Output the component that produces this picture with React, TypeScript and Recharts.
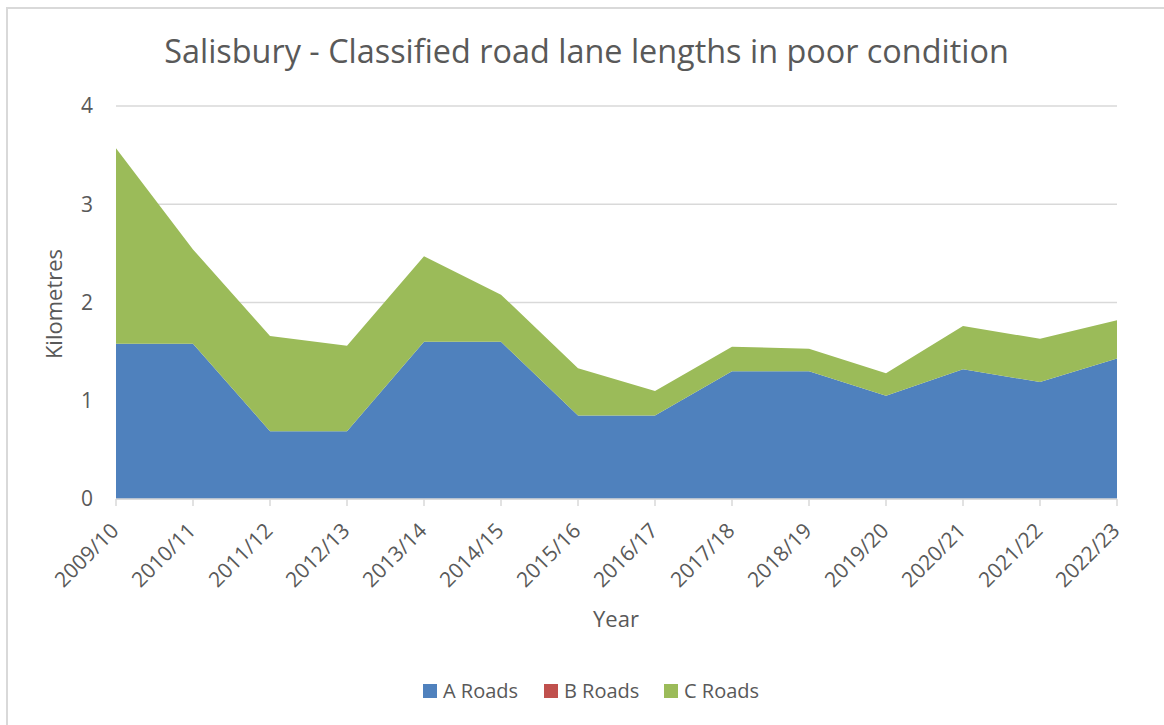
import React from "react";
import { Area, AreaChart, CartesianGrid, XAxis, YAxis } from "recharts";

const YEARS = [
  "2009/10", "2010/11", "2011/12", "2012/13", "2013/14", "2014/15", "2015/16",
  "2016/17", "2017/18", "2018/19", "2019/20", "2020/21", "2021/22", "2022/23",
];
const A_ROADS = [1.58, 1.58, 0.69, 0.69, 1.6, 1.6, 0.85, 0.85, 1.3, 1.3, 1.05, 1.32, 1.19, 1.43];
const B_ROADS = [0, 0, 0, 0, 0, 0, 0, 0, 0, 0, 0, 0, 0, 0];
const C_ROADS = [1.99, 0.96, 0.97, 0.87, 0.87, 0.48, 0.48, 0.25, 0.25, 0.23, 0.23, 0.44, 0.44, 0.39];
const Y_TICKS = [0, 1, 2, 3, 4];

const BLUE = "#4f81bd";
const RED = "#c0504d";
const GREEN = "#9bbb59";
const TEXT = "#595959";
const GRID = "#d9d9d9";
const FONT = "'Open Sans', sans-serif";

const data = YEARS.map((year, i) => ({
  year,
  a: A_ROADS[i],
  b: B_ROADS[i],
  c: C_ROADS[i],
}));

const LEGEND = [
  { label: "A Roads", color: BLUE, x: 423 },
  { label: "B Roads", color: RED, x: 544 },
  { label: "C Roads", color: GREEN, x: 664 },
];

function YearTick({ x, y, payload }: any) {
  return (
    <g transform={`translate(${x + 4},${y + 26})`}>
      <text textAnchor="end" transform="rotate(-45)" fill={TEXT} fontSize={21} fontFamily={FONT}>
        {payload.value}
      </text>
    </g>
  );
}

export default function App() {
  return (
    <div style={{ position: "absolute", left: 0, top: 0, width: 1164, height: 725, background: "#fff", overflow: "hidden" }}>
      <div
        style={{
          position: "absolute",
          left: 6,
          top: 7,
          width: 1300,
          height: 900,
          borderLeft: `2px solid ${GRID}`,
          borderTop: `2px solid ${GRID}`,
        }}
      />
      <AreaChart
        width={1164}
        height={725}
        data={data}
        margin={{ top: 106, right: 47, bottom: 196, left: 56 }}
        style={{ position: "absolute", left: 0, top: 0 }}
      >
        <CartesianGrid vertical={false} stroke={GRID} strokeWidth={1.5} />
        <XAxis
          dataKey="year"
          height={30}
          axisLine={{ stroke: GRID, strokeWidth: 1.5 }}
          tickLine={{ stroke: GRID, strokeWidth: 1.5 }}
          tickSize={7}
          tickMargin={0}
          interval={0}
          tick={<YearTick />}
        />
        <YAxis
          width={60}
          domain={[0, 4]}
          ticks={Y_TICKS}
          axisLine={false}
          tickLine={false}
          tickSize={0}
          tickMargin={23}
          tick={{ fill: TEXT, fontSize: 21, fontFamily: FONT }}
        />
        <Area type="linear" dataKey="a" stackId="1" stroke="none" fill={BLUE} fillOpacity={1} isAnimationActive={false} />
        <Area type="linear" dataKey="b" stackId="1" stroke="none" fill={RED} fillOpacity={1} isAnimationActive={false} />
        <Area type="linear" dataKey="c" stackId="1" stroke="none" fill={GREEN} fillOpacity={1} isAnimationActive={false} />
      </AreaChart>
      <svg width={1164} height={725} style={{ position: "absolute", left: 0, top: 0, pointerEvents: "none" }}>
        <text x={586.5} y={63} textAnchor="middle" fill={TEXT} fontSize={32.4} fontFamily={FONT}>
          Salisbury - Classified road lane lengths in poor condition
        </text>
        <text x={616} y={627} textAnchor="middle" fill={TEXT} fontSize={22} fontFamily={FONT}>
          Year
        </text>
        <text
          x={0}
          y={0}
          transform="translate(62,304) rotate(-90)"
          textAnchor="middle"
          fill={TEXT}
          fontSize={22}
          fontFamily={FONT}
        >
          Kilometres
        </text>
        {LEGEND.map((item) => (
          <g key={item.label}>
            <rect x={item.x} y={684} width={14} height={14} fill={item.color} />
            <text x={item.x + 20} y={698} fill={TEXT} fontSize={20} fontFamily={FONT}>
              {item.label}
            </text>
          </g>
        ))}
      </svg>
    </div>
  );
}
